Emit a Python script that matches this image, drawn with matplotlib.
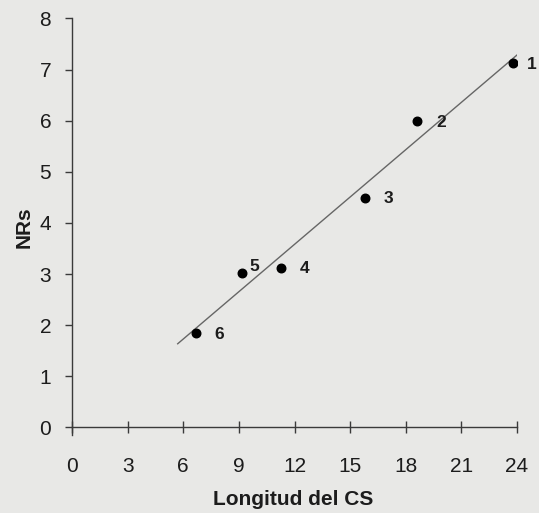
import matplotlib.pyplot as plt
import numpy as np

# NRs vs. longitud del CS, with point numbers
longitud = [23.8, 18.6, 15.8, 11.25, 9.15, 6.67]
nrs = [7.12, 5.99, 4.49, 3.12, 3.02, 1.84]
etiquetas = ["1", "2", "3", "4", "5", "6"]

# least-squares fit drawn over this x range
fit_x = [5.7, 24.2]

x_ticks = [0, 3, 6, 9, 12, 15, 18, 21, 24]
y_ticks = [0, 1, 2, 3, 4, 5, 6, 7, 8]

plt.rcParams['font.family'] = ['Liberation Sans', 'DejaVu Sans']
bg = '#e8e8e6'
ink = '#1c1c1c'

fig = plt.figure(figsize=(5.39, 5.13), dpi=100, facecolor=bg)
ax = fig.add_axes([0.1336, 0.152, 0.8256, 0.812], facecolor=bg)

slope, intercept = np.polyfit(longitud, nrs, 1)
xs = np.array(fit_x)
ax.plot(xs, slope * xs + intercept, color='#666666', lw=1.0, zorder=2)

ax.scatter(longitud, nrs, s=38, color='black', zorder=3)

# label offsets in pixels (point 5 sits up and to the right,
# point 1 is pulled in so it stays inside the figure)
offsets = {"5": (8, 7), "1": (14, -1)}
for x, y, t in zip(longitud, nrs, etiquetas):
    dx, dy = offsets.get(t, (19, -1))
    ax.annotate(t, (x, y), xytext=(dx, dy), textcoords='offset pixels',
                ha='left', va='center', fontsize=12.5, fontweight='bold', color=ink)

ax.set_xlim(0, 24)
ax.set_ylim(-0.15, 8)
ax.set_xticks(x_ticks)
ax.set_yticks(y_ticks)

for s in ['top', 'right']:
    ax.spines[s].set_visible(False)
ax.spines['bottom'].set_position(('data', 0))
ax.spines['bottom'].set_color('#3a3a3a')
ax.spines['left'].set_color('#3a3a3a')
ax.spines['bottom'].set_linewidth(1.0)
ax.spines['left'].set_linewidth(1.0)

ax.tick_params(axis='x', direction='inout', length=8, width=1.0, color='#3a3a3a',
               labelsize=15, labelcolor=ink, pad=17)
ax.tick_params(axis='y', direction='out', length=5, width=1.0, color='#3a3a3a',
               labelsize=15, labelcolor=ink, pad=10)

fig.text(0.544, 0.008, 'Longitud del CS', ha='center', va='bottom',
         fontsize=15, fontweight='bold', color=ink)
ax.set_ylabel('NRs', fontsize=15, fontweight='bold', color=ink, labelpad=4)

fig.savefig('out.png', dpi=100, facecolor=bg)
